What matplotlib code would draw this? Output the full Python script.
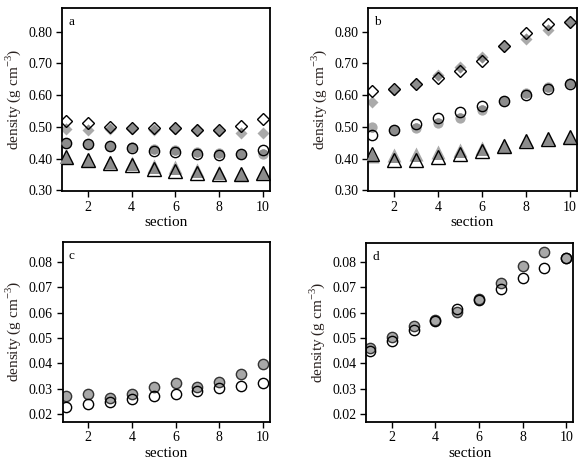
import matplotlib
matplotlib.use("Agg")
import matplotlib.pyplot as plt
from matplotlib.markers import MarkerStyle
from matplotlib.transforms import Affine2D, ScaledTranslation

plt.rcParams['font.family'] = ['Liberation Serif', 'DejaVu Serif']
plt.rcParams['mathtext.fontset'] = 'custom'
plt.rcParams['mathtext.rm'] = 'Liberation Serif'

sections = [1, 2, 3, 4, 5, 6, 7, 8, 9, 10]

# panel a
a_dia_open = [0.519, 0.511, 0.500, 0.497, 0.497, 0.497, 0.489, 0.489, 0.502, 0.526]
a_dia_gray = [0.492, 0.489, 0.492, 0.492, 0.489, 0.492, 0.489, 0.486, 0.481, 0.479]
a_cir_open = [0.449, 0.445, 0.439, 0.432, 0.424, 0.421, 0.414, 0.410, 0.414, 0.428]
a_cir_gray = [0.449, 0.445, 0.440, 0.437, 0.430, 0.426, 0.422, 0.418, 0.414, 0.414]
a_tri_open = [0.405, 0.395, 0.387, 0.379, 0.368, 0.361, 0.356, 0.350, 0.350, 0.355]
a_tri_gray = [0.405, 0.397, 0.390, 0.386, 0.378, 0.372, 0.365, 0.357, 0.352, 0.355]

# panel b
b_dia_open = [0.614, 0.618, 0.634, 0.653, 0.676, 0.708, 0.753, 0.795, 0.824, 0.829]
b_dia_gray = [0.579, 0.616, 0.634, 0.663, 0.689, 0.719, 0.755, 0.776, 0.805, 0.829]
b_cir_open = [0.474, 0.489, 0.508, 0.529, 0.547, 0.565, 0.582, 0.600, 0.619, 0.635]
b_cir_gray = [0.500, 0.489, 0.495, 0.511, 0.529, 0.553, 0.582, 0.605, 0.624, 0.639]
b_tri_open = [0.414, 0.397, 0.397, 0.405, 0.416, 0.424, 0.439, 0.456, 0.463, 0.468]
b_tri_gray = [0.408, 0.410, 0.415, 0.420, 0.427, 0.432, 0.443, 0.456, 0.463, 0.468]

# panel c
c_cir_gray = [0.0273, 0.0280, 0.0263, 0.0280, 0.0306, 0.0322, 0.0309, 0.0326, 0.0359, 0.0398]
c_cir_open = [0.0230, 0.0241, 0.0250, 0.0259, 0.0273, 0.0280, 0.0293, 0.0302, 0.0313, 0.0322]

# panel d
d_cir_gray = [0.0462, 0.0505, 0.0547, 0.0571, 0.0604, 0.0652, 0.0715, 0.0783, 0.0838, 0.0816]
d_cir_open = [0.0450, 0.0488, 0.0531, 0.0568, 0.0614, 0.0649, 0.0691, 0.0735, 0.0774, 0.0813]

GRAY = '#aaaaaa'
DARK = '#8c8c8c'
sizes = {'D': 6.6, 'o': 7.4, '^': 9.5}

fig = plt.figure(figsize=(5.86, 4.67), dpi=100)


def shadow_pair(ax, marker, y_open, y_gray):
    ms = sizes[marker]
    ax.plot(sections, y_gray, linestyle='none', marker=marker, ms=ms,
            mfc=GRAY, mec='none', zorder=2)
    ax.plot(sections, y_open, linestyle='none', marker=marker, ms=ms,
            mfc='none', mec='k', mew=1.0, zorder=4)
    # gray seen through the open marker looks darker
    mk = MarkerStyle(marker)
    path = mk.get_path()
    for x, yo, yg in zip(sections, y_open, y_gray):
        tr = (mk.get_transform() + Affine2D().scale(ms * fig.dpi / 72.0)
              + ScaledTranslation(x, yo, ax.transData))
        line, = ax.plot([x], [yg], linestyle='none', marker=marker, ms=ms,
                        mfc=DARK, mec='none', zorder=3)
        line.set_clip_path(path, tr)


def filled_pair(ax, y_open, y_gray):
    ms = sizes['o']
    ax.plot(sections, y_gray, linestyle='none', marker='o', ms=ms,
            mfc='#a8a8a8', mec='#333333', mew=1.0, zorder=2)
    ax.plot(sections, y_open, linestyle='none', marker='o', ms=ms,
            mfc='none', mec='k', mew=1.0, zorder=4)


def style(ax, letter, ylim, yticks):
    ax.set_xlim(0.82, 10.32)
    ax.set_ylim(*ylim)
    ax.set_xticks([2, 4, 6, 8, 10])
    ax.set_yticks(yticks)
    ax.set_yticklabels([f"{t:.2f}" for t in yticks])
    ax.tick_params(direction='out', length=4, width=1, labelsize=10,
                   top=False, right=False, pad=3)
    for sp in ax.spines.values():
        sp.set_linewidth(1.3)
    ax.set_xlabel('section', fontsize=11, labelpad=2)
    ax.set_ylabel('density (g cm$^{-3}$)', fontsize=11, color='#2a2220', labelpad=4)
    ax.text(0.03, 0.955, letter, transform=ax.transAxes, va='top', ha='left', fontsize=9.5)


ax_a = fig.add_axes([62 / 586, 1 - 191 / 467, 208 / 586, 183 / 467])
ax_b = fig.add_axes([368 / 586, 1 - 191 / 467, 209 / 586, 183 / 467])
ax_c = fig.add_axes([62.5 / 586, 1 - 421.7 / 467, 207.5 / 586, 180 / 467])
ax_d = fig.add_axes([366 / 586, 1 - 421.7 / 467, 207.3 / 586, 179 / 467])

big_ticks = [0.30, 0.40, 0.50, 0.60, 0.70, 0.80]
small_ticks = [0.02, 0.03, 0.04, 0.05, 0.06, 0.07, 0.08]

style(ax_a, 'a', (0.298, 0.874), big_ticks)
style(ax_b, 'b', (0.298, 0.874), big_ticks)
style(ax_c, 'c', (0.0171, 0.0879), small_ticks)
style(ax_d, 'd', (0.0171, 0.0875), small_ticks)

shadow_pair(ax_a, 'D', a_dia_open, a_dia_gray)
shadow_pair(ax_a, 'o', a_cir_open, a_cir_gray)
shadow_pair(ax_a, '^', a_tri_open, a_tri_gray)
shadow_pair(ax_b, 'D', b_dia_open, b_dia_gray)
shadow_pair(ax_b, 'o', b_cir_open, b_cir_gray)
shadow_pair(ax_b, '^', b_tri_open, b_tri_gray)
filled_pair(ax_c, c_cir_open, c_cir_gray)
filled_pair(ax_d, d_cir_open, d_cir_gray)

fig.savefig('out.png', dpi=100)
